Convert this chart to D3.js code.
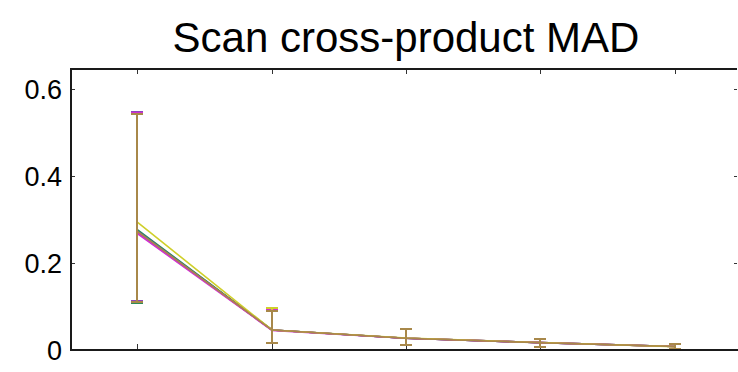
<!DOCTYPE html>
<html>
<head>
<meta charset="utf-8">
<script src="https://cdn.jsdelivr.net/npm/d3@7"></script>
<style>
  html, body { margin: 0; padding: 0; background: #fff; }
  svg { display: block; }
  text { font-family: "Liberation Sans", Arial, Helvetica, sans-serif; fill: #000; }
</style>
</head>
<body>
<svg id="chart" width="738" height="372"></svg>
<script>
// Scan steps along the x axis (unlabelled)
const steps = [1, 2, 3, 4, 5];
const yTicks = [0, 0.2, 0.4, 0.6];
const yTickLabels = ["0", "0.2", "0.4", "0.6"];

// Per-run mean cross-product MAD at each scan step (drawn in this order)
const seriesNames = ["run B", "run C", "run F", "run E", "run D", "run A", "run G"];
const seriesColors = ["#2e8b57", "#3467b8", "#b03232", "#8e44c0", "#d12fd1", "#cfcf2a", "#a8884a"];
const meanB = [0.277, 0.046, 0.027, 0.017, 0.008];
const meanC = [0.274, 0.046, 0.027, 0.017, 0.008];
const meanF = [0.272, 0.046, 0.027, 0.017, 0.008];
const meanE = [0.271, 0.046, 0.027, 0.017, 0.008];
const meanD = [0.268, 0.045, 0.027, 0.017, 0.008];
const meanA = [0.294, 0.046, 0.0275, 0.0172, 0.0078];
const meanG = [0.273, 0.0458, 0.027, 0.0168, 0.008];

// Error bar bounds (lower / upper) per run
const lowB = [0.109, 0.017, 0.012, 0.007, 0.002], highB = [0.543, 0.095, 0.048, 0.025, 0.013];
const lowC = [0.110, 0.017, 0.012, 0.007, 0.002], highC = [0.543, 0.094, 0.048, 0.025, 0.013];
const lowF = [0.111, 0.017, 0.012, 0.007, 0.002], highF = [0.543, 0.091, 0.048, 0.025, 0.013];
const lowE = [0.112, 0.017, 0.012, 0.007, 0.002], highE = [0.546, 0.094, 0.048, 0.025, 0.013];
const lowD = [0.111, 0.017, 0.012, 0.007, 0.002], highD = [0.544, 0.093, 0.048, 0.025, 0.013];
const lowA = [0.110, 0.017, 0.012, 0.007, 0.002], highA = [0.542, 0.097, 0.048, 0.025, 0.013];
const lowG = [0.110, 0.017, 0.012, 0.007, 0.002], highG = [0.541, 0.089, 0.048, 0.025, 0.013];

const means = [meanB, meanC, meanF, meanE, meanD, meanA, meanG];
const lows = [lowB, lowC, lowF, lowE, lowD, lowA, lowG];
const highs = [highB, highC, highF, highE, highD, highA, highG];

const series = seriesNames.map((name, i) => ({
  name, color: seriesColors[i],
  points: steps.map((s, j) => ({ step: s, mean: means[i][j], low: lows[i][j], high: highs[i][j] }))
}));

const svg = d3.select("#chart");
const plot = { left: 71, right: 737, top: 69, bottom: 350 };

const x = d3.scaleLinear().domain([0.5, 5.5]).range([70, 742]);
const y = d3.scaleLinear().domain([0, 0.645]).range([plot.bottom, plot.top]);
const px = v => Math.round(x(v));
const py = v => Math.round(y(v));

// Title
svg.append("text")
  .attr("x", 406).attr("y", 52)
  .attr("text-anchor", "middle")
  .style("font-size", "42px")
  .text("Scan cross-product MAD");

// Y tick labels
svg.append("g").selectAll("text")
  .data(yTicks)
  .join("text")
  .attr("x", 62)
  .attr("y", d => y(d) + 10)
  .attr("text-anchor", "end")
  .style("font-size", "27px")
  .text((d, i) => yTickLabels[i]);

// Tick marks (inward, on all four sides)
const tickG = svg.append("g").attr("stroke", "#333").attr("stroke-width", 1);
yTicks.forEach(t => {
  tickG.append("line").attr("x1", plot.left).attr("x2", plot.left + 4).attr("y1", py(t) + 0.5).attr("y2", py(t) + 0.5);
  tickG.append("line").attr("x1", plot.right).attr("x2", plot.right - 3).attr("y1", py(t) + 0.5).attr("y2", py(t) + 0.5);
});
steps.forEach(s => {
  tickG.append("line").attr("x1", px(s) + 0.5).attr("x2", px(s) + 0.5).attr("y1", plot.bottom).attr("y2", plot.bottom - 6);
  tickG.append("line").attr("x1", px(s) + 0.5).attr("x2", px(s) + 0.5).attr("y1", plot.top).attr("y2", plot.top + 5);
});

// Data lines
const line = d3.line().x(d => px(d.step)).y(d => y(d.mean));
const lineG = svg.append("g").attr("fill", "none");
series.forEach(s => {
  lineG.append("path")
    .datum(s.points)
    .attr("stroke", s.color)
    .attr("stroke-width", 1.6)
    .attr("d", line);
});

// Error bars
const capHalf = 6;
const errG = svg.append("g").attr("shape-rendering", "crispEdges");
series.forEach(s => {
  const g = errG.append("g").attr("stroke", s.color);
  s.points.forEach(p => {
    const cx = px(p.step);
    g.append("line").attr("x1", cx).attr("x2", cx)
      .attr("y1", py(p.low)).attr("y2", py(p.high)).attr("stroke-width", 2);
    g.append("line").attr("x1", cx - capHalf).attr("x2", cx + capHalf)
      .attr("y1", py(p.high)).attr("y2", py(p.high)).attr("stroke-width", 2);
    g.append("line").attr("x1", cx - capHalf).attr("x2", cx + capHalf)
      .attr("y1", py(p.low)).attr("y2", py(p.low)).attr("stroke-width", 2);
  });
});

// Axes frame (left, top, bottom)
const frame = svg.append("g").attr("stroke", "#1a1a1a").attr("stroke-width", 2).attr("fill", "none");
frame.append("path").attr("d", `M${plot.right},${plot.top}H${plot.left}V${plot.bottom}H738`);
</script>
</body>
</html>
